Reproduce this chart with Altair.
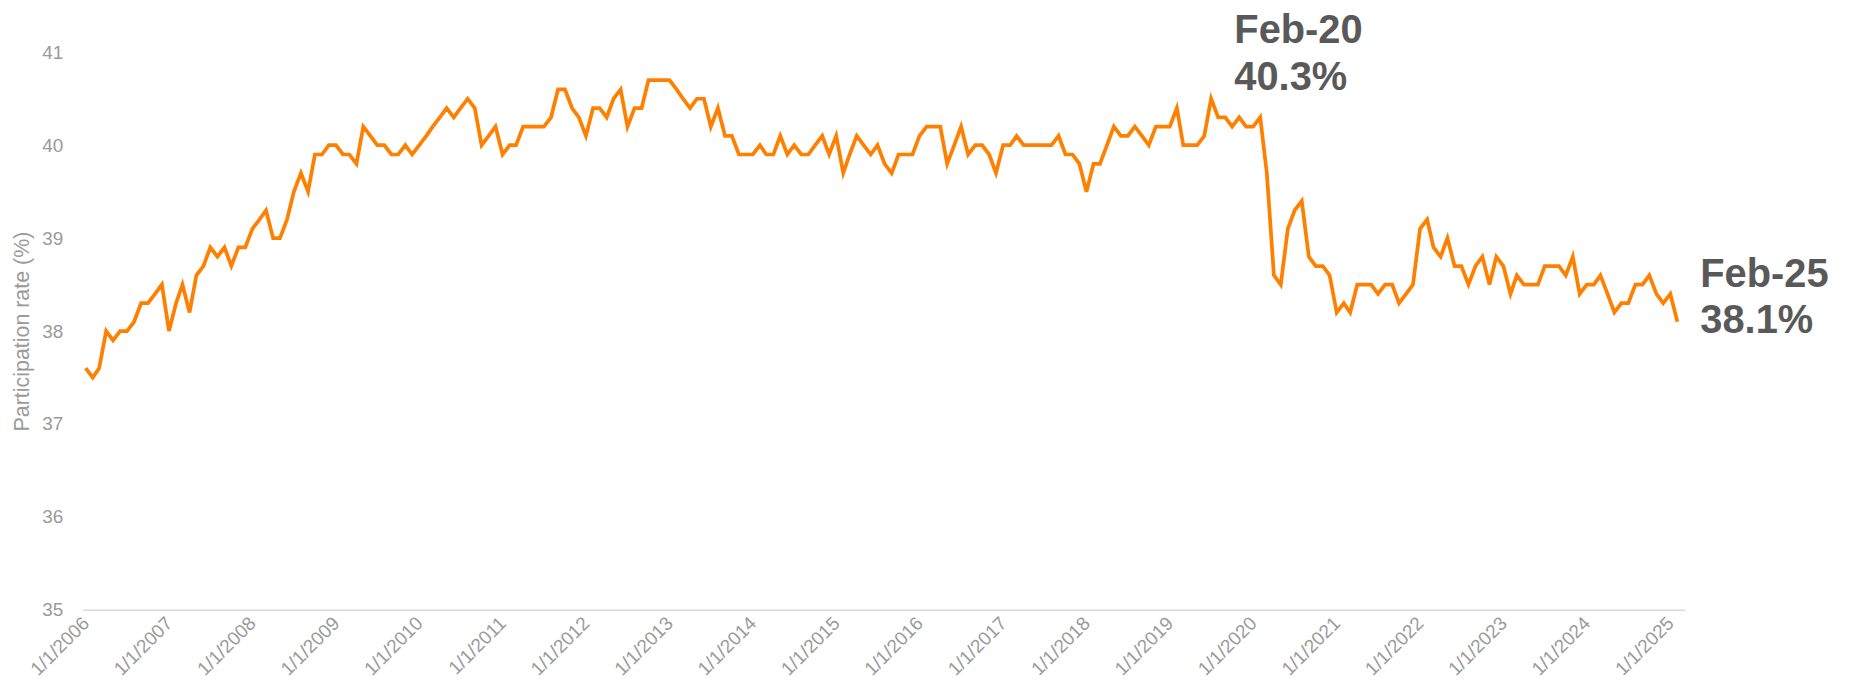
import altair as alt
import pandas as pd

# Monthly participation rate (%), Jan 2006 - Feb 2025
r2006 = [37.6, 37.5, 37.6, 38.0, 37.9, 38.0, 38.0, 38.1, 38.3, 38.3, 38.4, 38.5]
r2007 = [38.0, 38.3, 38.5, 38.2, 38.6, 38.7, 38.9, 38.8, 38.9, 38.7, 38.9, 38.9]
r2008 = [39.1, 39.2, 39.3, 39.0, 39.0, 39.2, 39.5, 39.7, 39.5, 39.9, 39.9, 40.0]
r2009 = [40.0, 39.9, 39.9, 39.8, 40.2, 40.1, 40.0, 40.0, 39.9, 39.9, 40.0, 39.9]
r2010 = [40.0, 40.1, 40.2, 40.3, 40.4, 40.3, 40.4, 40.5, 40.4, 40.0, 40.1, 40.2]
r2011 = [39.9, 40.0, 40.0, 40.2, 40.2, 40.2, 40.2, 40.3, 40.6, 40.6, 40.4, 40.3]
r2012 = [40.1, 40.4, 40.4, 40.3, 40.5, 40.6, 40.2, 40.4, 40.4, 40.7, 40.7, 40.7]
r2013 = [40.7, 40.6, 40.5, 40.4, 40.5, 40.5, 40.2, 40.4, 40.1, 40.1, 39.9, 39.9]
r2014 = [39.9, 40.0, 39.9, 39.9, 40.1, 39.9, 40.0, 39.9, 39.9, 40.0, 40.1, 39.9]
r2015 = [40.1, 39.7, 39.9, 40.1, 40.0, 39.9, 40.0, 39.8, 39.7, 39.9, 39.9, 39.9]
r2016 = [40.1, 40.2, 40.2, 40.2, 39.8, 40.0, 40.2, 39.9, 40.0, 40.0, 39.9, 39.7]
r2017 = [40.0, 40.0, 40.1, 40.0, 40.0, 40.0, 40.0, 40.0, 40.1, 39.9, 39.9, 39.8]
r2018 = [39.5, 39.8, 39.8, 40.0, 40.2, 40.1, 40.1, 40.2, 40.1, 40.0, 40.2, 40.2]
r2019 = [40.2, 40.4, 40.0, 40.0, 40.0, 40.1, 40.5, 40.3, 40.3, 40.2, 40.3, 40.2]
r2020 = [40.2, 40.3, 39.7, 38.6, 38.5, 39.1, 39.3, 39.4, 38.8, 38.7, 38.7, 38.6]
r2021 = [38.2, 38.3, 38.2, 38.5, 38.5, 38.5, 38.4, 38.5, 38.5, 38.3, 38.4, 38.5]
r2022 = [39.1, 39.2, 38.9, 38.8, 39.0, 38.7, 38.7, 38.5, 38.7, 38.8, 38.5, 38.8]
r2023 = [38.7, 38.4, 38.6, 38.5, 38.5, 38.5, 38.7, 38.7, 38.7, 38.6, 38.8, 38.4]
r2024 = [38.5, 38.5, 38.6, 38.4, 38.2, 38.3, 38.3, 38.5, 38.5, 38.6, 38.4, 38.3]
r2025 = [38.4, 38.1]

tick_years = list(range(2006, 2026))
y_ticks = [35, 36, 37, 38, 39, 40, 41]

ann_dates = ["2020-02-01", "2025-02-01"]
ann_names = ["Feb-20", "Feb-25"]
ann_values = [40.3, 38.1]

values = (r2006 + r2007 + r2008 + r2009 + r2010 + r2011 + r2012 + r2013 + r2014
          + r2015 + r2016 + r2017 + r2018 + r2019 + r2020 + r2021 + r2022 + r2023
          + r2024 + r2025)
dates = pd.date_range("2006-01-01", periods=len(values), freq="MS")
df = pd.DataFrame({"date": dates, "rate": values})

FONT = "Liberation Sans"
GRAY = "#9a9a9a"
DARK = "#595959"

x_enc = alt.X(
    "date:T",
    scale=alt.Scale(domain=[alt.DateTime(year=2005, month=12, date=19),
                            alt.DateTime(year=2025, month=3, date=5)]),
    axis=alt.Axis(
        values=[alt.DateTime(year=y, month=1, date=1) for y in tick_years],
        format="%-m/%-d/%Y",
        labelAngle=-45,
        labelAlign="right",
        labelBaseline="middle",
        labelPadding=10,
        labelFontSize=19,
        labelColor=GRAY,
        labelFont=FONT,
        labelOverlap=False,
        ticks=False,
        grid=False,
        domainColor="#d9d9d9",
        domainWidth=1.5,
        title=None,
    ),
)
y_enc = alt.Y(
    "rate:Q",
    scale=alt.Scale(domain=[35, 41], nice=False, zero=False),
    axis=alt.Axis(
        values=y_ticks,
        format="d",
        labelFontSize=19,
        labelColor=GRAY,
        labelFont=FONT,
        labelPadding=20,
        ticks=False,
        grid=False,
        domain=False,
        title="Participation rate (%)",
        titleFontSize=21.5,
        titleFont=FONT,
        titleColor=GRAY,
        titleFontWeight="normal",
        titlePadding=8,
    ),
)

line = alt.Chart(df).mark_line(color="#FF8000", strokeWidth=3.75).encode(x=x_enc, y=y_enc)

layers = [line]
offsets = [(-26, -75, -27), (23, -35, 11)]
for d, n, v, (dx, dy1, dy2) in zip(ann_dates, ann_names, ann_values, offsets):
    adf = pd.DataFrame({"date": [pd.Timestamp(d)], "rate": [v]})
    base = alt.Chart(adf).encode(x="date:T", y="rate:Q")
    layers.append(base.mark_text(text=n, align="left", baseline="alphabetic", dx=dx, dy=dy1,
                                 fontSize=40, fontWeight="bold", font=FONT, color=DARK))
    layers.append(base.mark_text(text=f"{v}%", align="left", baseline="alphabetic", dx=dx, dy=dy2,
                                 fontSize=40, fontWeight="bold", font=FONT, color=DARK))

chart = alt.layer(*layers).properties(
    width=1609,
    height=560,
    autosize=alt.AutoSizeParams(type="none"),
    padding={"left": 75, "top": 43, "right": 160, "bottom": 72},
).configure(font=FONT, background="white").configure_view(stroke=None)

chart.save("out.html", embed_options={"renderer": "svg", "actions": False})
